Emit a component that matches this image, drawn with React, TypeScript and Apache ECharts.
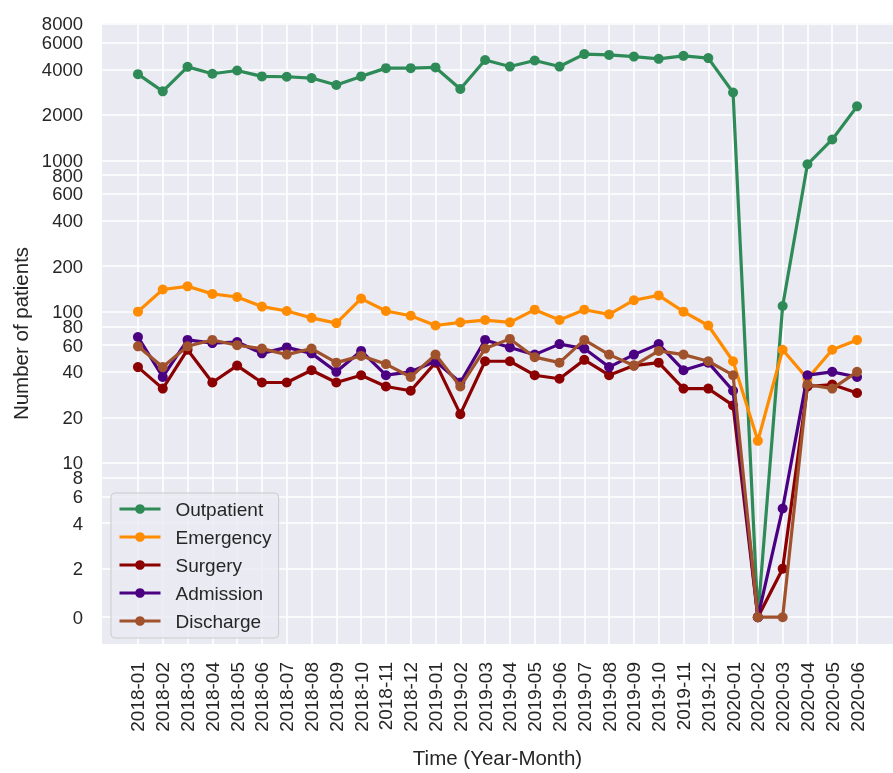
import React, { useEffect, useRef } from "react";
import * as echarts from "echarts";

const months = [
  "2018-01", "2018-02", "2018-03", "2018-04", "2018-05", "2018-06",
  "2018-07", "2018-08", "2018-09", "2018-10", "2018-11", "2018-12",
  "2019-01", "2019-02", "2019-03", "2019-04", "2019-05", "2019-06",
  "2019-07", "2019-08", "2019-09", "2019-10", "2019-11", "2019-12",
  "2020-01", "2020-02", "2020-03", "2020-04", "2020-05", "2020-06",
];

const outpatient = [
  3715, 2860, 4150, 3735, 3925, 3590, 3570, 3500, 3150, 3590, 4070, 4070,
  4115, 2965, 4610, 4170, 4570, 4170, 5040, 4980, 4855, 4690, 4910, 4745,
  2810, 0, 109, 942, 1374, 2275,
];
const emergency = [
  100, 140, 147, 131, 125, 108, 101, 91, 84, 122, 101, 94,
  81, 85, 88, 85, 103, 88, 103, 96, 119, 128, 100, 81,
  47, 14, 56, 36, 56, 65,
];
const surgery = [
  43, 31, 56, 34, 44, 34, 34, 41, 34, 38, 32, 30,
  46, 21, 47, 47, 38, 36, 48, 38, 44, 46, 31, 31,
  24, 0, 2, 32, 33, 29,
];
const admission = [
  68, 37, 65, 62, 63, 53, 58, 53, 40, 55, 38, 40,
  47, 34, 65, 58, 52, 61, 57, 43, 52, 61, 41, 46,
  30, 0, 5, 38, 40, 37,
];
const discharge = [
  59, 43, 59, 65, 60, 57, 52, 57, 46, 51, 45, 37,
  52, 32, 57, 66, 50, 46, 65, 52, 44, 55, 52, 47,
  38, 0, 0, 33, 31, 40,
];

const seriesNames = ["Outpatient", "Emergency", "Surgery", "Admission", "Discharge"];
const seriesColors = ["#2E8B57", "#FF8C00", "#8B0000", "#4B0082", "#A0522D"];
const seriesValues = [outpatient, emergency, surgery, admission, discharge];

const yTicks = [0, 2, 4, 6, 8, 10, 20, 40, 60, 80, 100, 200, 400, 600, 800, 1000, 2000, 4000, 6000, 8000];

// symmetric-log style transform: log10 above 1, a tiny linear piece between 0 and 1
const T = (v: number) => (v >= 1 ? Math.log10(v) : -0.02 + 0.02 * v);

const FONT = "Liberation Sans, Arial, sans-serif";
const TEXT = "#262626";

export default function App() {
  const ref = useRef<HTMLDivElement>(null);
  useEffect(() => {
    if (!ref.current) return;
    const chart = echarts.init(ref.current, undefined, { renderer: "svg" });
    const yTickT = yTicks.map(T);
    const xIdx = months.map((_, i) => i);
    chart.setOption({
      animation: false,
      textStyle: { fontFamily: FONT },
      grid: {
        left: 102,
        right: 0,
        top: 23,
        bottom: 126,
        show: true,
        backgroundColor: "#EAEAF2",
        borderWidth: 0,
      },
      legend: {
        orient: "vertical",
        left: 111,
        top: 493,
        data: seriesNames,
        itemWidth: 41,
        itemHeight: 12,
        itemGap: 8,
        padding: [6, 7, 7, 7],
        backgroundColor: "rgba(234,234,242,0.8)",
        borderColor: "#CCCCCC",
        borderWidth: 1,
        borderRadius: 4,
        lineStyle: { width: 3 },
        textStyle: {
          fontSize: 19,
          color: TEXT,
          fontFamily: FONT,
          lineHeight: 20,
          padding: [0, 0, 0, 10],
        },
      },
      xAxis: {
        type: "value",
        min: -1.45,
        max: 30.45,
        name: "Time (Year-Month)",
        nameLocation: "middle",
        nameGap: 103,
        nameTextStyle: { fontSize: 20.5, color: TEXT, fontFamily: FONT },
        axisLine: { show: false },
        axisTick: { show: false, customValues: xIdx },
        axisLabel: {
          customValues: xIdx,
          rotate: 90,
          margin: 18,
          fontSize: 19,
          color: TEXT,
          fontFamily: FONT,
          formatter: (v: number) => months[Math.round(v)] ?? "",
        },
        splitLine: { show: true, lineStyle: { color: "#FFFFFF", width: 1.6 } },
      },
      yAxis: {
        type: "value",
        min: -0.197,
        max: 3.908,
        name: "Number of patients",
        nameLocation: "middle",
        nameGap: 68,
        nameTextStyle: { fontSize: 20.5, color: TEXT, fontFamily: FONT },
        axisLine: { show: false },
        axisTick: { show: false, customValues: yTickT },
        axisLabel: {
          customValues: yTickT,
          margin: 19,
          fontSize: 18.5,
          color: TEXT,
          fontFamily: FONT,
          formatter: (v: number) => {
            const i = yTickT.findIndex((t) => Math.abs(t - v) < 1e-6);
            return i >= 0 ? String(yTicks[i]) : "";
          },
        },
        splitLine: { show: true, lineStyle: { color: "#FFFFFF", width: 1.6 } },
      },
      series: seriesNames.map((name, k) => ({
        type: "line",
        name,
        data: seriesValues[k].map((v, i) => [i, T(v)]),
        symbol: "circle",
        symbolSize: 10,
        showSymbol: true,
        lineStyle: { width: 3.2, color: seriesColors[k] },
        itemStyle: { color: seriesColors[k] },
        z: 2 + k,
        emphasis: { disabled: true },
      })),
    });
    return () => chart.dispose();
  }, []);
  return (
    <div
      ref={ref}
      style={{ position: "fixed", left: 0, top: 0, width: 893, height: 773 }}
    />
  );
}
